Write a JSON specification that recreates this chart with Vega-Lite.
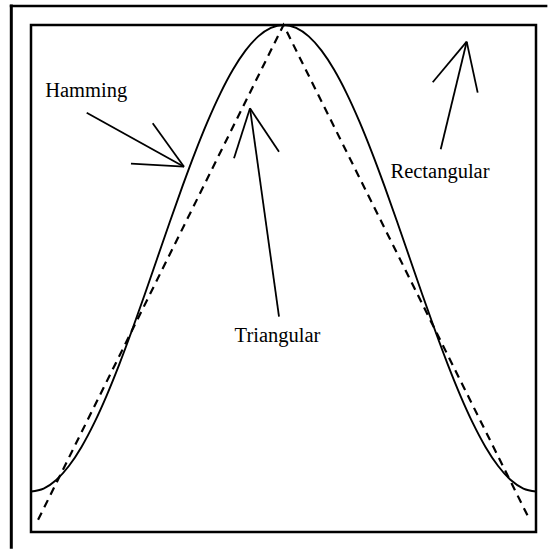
{
  "$schema": "https://vega.github.io/schema/vega-lite/v6.json",
  "width": 505,
  "height": 507,
  "padding": {"left": 31, "top": 25, "right": 13, "bottom": 20},
  "autosize": {"type": "none"},
  "background": "white",
  "config": {
    "view": {"stroke": "black", "strokeWidth": 2.5, "fill": "white"},
    "axis": {"disable": true}
  },
  "datasets": {
    "hamming": [
      {"x": -1.0, "y": 0.08}, {"x": -0.95, "y": 0.08566}, {"x": -0.9, "y": 0.10251}, {"x": -0.85, "y": 0.13014},
      {"x": -0.8, "y": 0.16785}, {"x": -0.75, "y": 0.21473}, {"x": -0.7, "y": 0.26962}, {"x": -0.65, "y": 0.33116},
      {"x": -0.6, "y": 0.39785}, {"x": -0.55, "y": 0.46804}, {"x": -0.5, "y": 0.54}, {"x": -0.45, "y": 0.61196},
      {"x": -0.4, "y": 0.68215}, {"x": -0.35, "y": 0.74884}, {"x": -0.3, "y": 0.81038}, {"x": -0.25, "y": 0.86527},
      {"x": -0.2, "y": 0.91215}, {"x": -0.15, "y": 0.94986}, {"x": -0.1, "y": 0.97749}, {"x": -0.05, "y": 0.99434},
      {"x": 0.0, "y": 1.0},
      {"x": 0.05, "y": 0.99434}, {"x": 0.1, "y": 0.97749}, {"x": 0.15, "y": 0.94986}, {"x": 0.2, "y": 0.91215},
      {"x": 0.25, "y": 0.86527}, {"x": 0.3, "y": 0.81038}, {"x": 0.35, "y": 0.74884}, {"x": 0.4, "y": 0.68215},
      {"x": 0.45, "y": 0.61196}, {"x": 0.5, "y": 0.54}, {"x": 0.55, "y": 0.46804}, {"x": 0.6, "y": 0.39785},
      {"x": 0.65, "y": 0.33116}, {"x": 0.7, "y": 0.26962}, {"x": 0.75, "y": 0.21473}, {"x": 0.8, "y": 0.16785},
      {"x": 0.85, "y": 0.13014}, {"x": 0.9, "y": 0.10251}, {"x": 0.95, "y": 0.08566}, {"x": 1.0, "y": 0.08}
    ],
    "triangular": [
      {"x": -0.972, "y": 0.024}, {"x": 0.0, "y": 1.0}, {"x": 0.975, "y": 0.024}
    ],
    "arrows": [
      {"x": -0.7794, "y": 0.827, "x2": -0.3941, "y2": 0.7205},
      {"x": -0.518, "y": 0.8061, "x2": -0.3941, "y2": 0.7205},
      {"x": -0.604, "y": 0.7264, "x2": -0.3941, "y2": 0.7205},
      {"x": -0.0178, "y": 0.4247, "x2": -0.1327, "y2": 0.8357},
      {"x": -0.196, "y": 0.7371, "x2": -0.1327, "y2": 0.8357},
      {"x": -0.0178, "y": 0.7501, "x2": -0.1327, "y2": 0.8357},
      {"x": 0.6226, "y": 0.7548, "x2": 0.7255, "y2": 0.9671},
      {"x": 0.5909, "y": 0.887, "x2": 0.7255, "y2": 0.9671},
      {"x": 0.7691, "y": 0.8665, "x2": 0.7255, "y2": 0.9671}
    ],
    "vborder": [{"x": -1.078, "y": -0.033, "y2": 1.0405}],
    "hborder": [{"x": -1.084, "x2": 1.045, "y": 1.0375}],
    "labels": [
      {"x": -0.7814, "y": 0.8586, "label": "Hamming"},
      {"x": -0.0238, "y": 0.3748, "label": "Triangular"},
      {"x": 0.6198, "y": 0.6982, "label": "Rectangular"}
    ]
  },
  "layer": [
    {
      "data": {"name": "hamming"},
      "mark": {"type": "line", "color": "black", "strokeWidth": 1.9, "interpolate": "monotone"},
      "encoding": {
        "x": {"field": "x", "type": "quantitative", "scale": {"domain": [-1, 1], "nice": false, "zero": false}, "axis": null},
        "y": {"field": "y", "type": "quantitative", "scale": {"domain": [0, 1], "nice": false, "zero": false}, "axis": null}
      }
    },
    {
      "data": {"name": "triangular"},
      "mark": {"type": "line", "color": "black", "strokeWidth": 2.2, "strokeDash": [8, 6]},
      "encoding": {
        "x": {"field": "x", "type": "quantitative"},
        "y": {"field": "y", "type": "quantitative"}
      }
    },
    {
      "data": {"name": "arrows"},
      "mark": {"type": "rule", "color": "black", "strokeWidth": 1.8},
      "encoding": {
        "x": {"field": "x", "type": "quantitative"},
        "y": {"field": "y", "type": "quantitative"},
        "x2": {"field": "x2"},
        "y2": {"field": "y2"}
      }
    },
    {
      "data": {"name": "vborder"},
      "mark": {"type": "rule", "color": "black", "strokeWidth": 3},
      "encoding": {
        "x": {"field": "x", "type": "quantitative"},
        "y": {"field": "y", "type": "quantitative"},
        "y2": {"field": "y2"}
      }
    },
    {
      "data": {"name": "hborder"},
      "mark": {"type": "rule", "color": "black", "strokeWidth": 2.5},
      "encoding": {
        "x": {"field": "x", "type": "quantitative"},
        "x2": {"field": "x2"},
        "y": {"field": "y", "type": "quantitative"}
      }
    },
    {
      "data": {"name": "labels"},
      "mark": {"type": "text", "font": "Liberation Serif", "fontSize": 20.5, "color": "black", "align": "center", "baseline": "alphabetic"},
      "encoding": {
        "x": {"field": "x", "type": "quantitative"},
        "y": {"field": "y", "type": "quantitative"},
        "text": {"field": "label"}
      }
    }
  ]
}
